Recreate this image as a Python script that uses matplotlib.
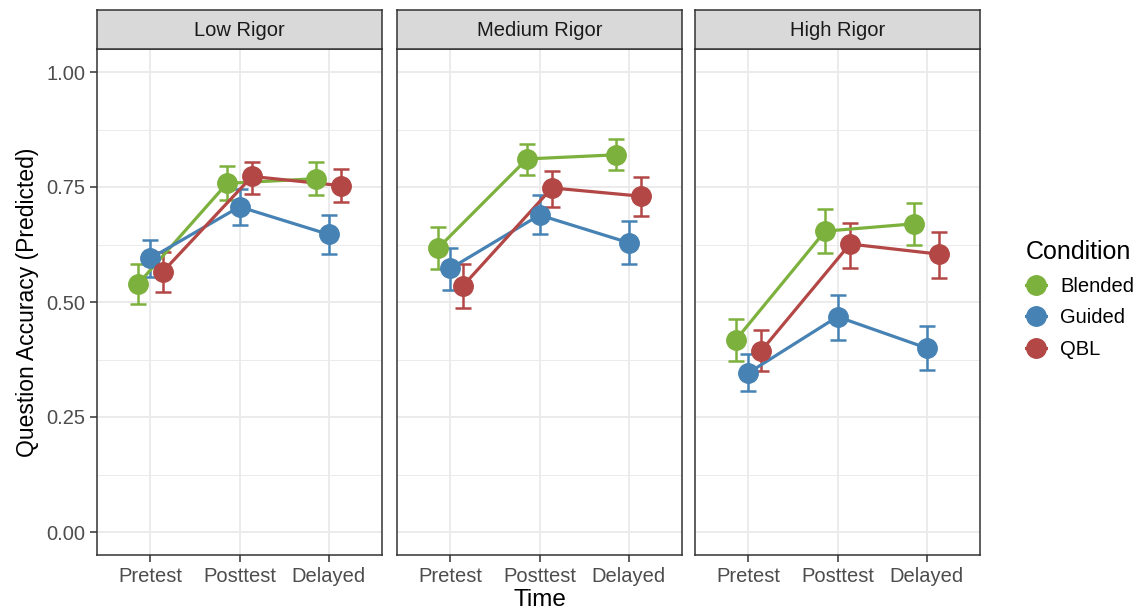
#!/usr/bin/env python3

import numpy as np
import matplotlib.pyplot as plt
from matplotlib.lines import Line2D
from matplotlib.ticker import MultipleLocator

plt.rcParams['font.family'] = ['Liberation Sans', 'DejaVu Sans']

## Data
panels = ['Low Rigor', 'Medium Rigor', 'High Rigor']
times = ['Pretest', 'Posttest', 'Delayed']
conds = ['Blended', 'Guided', 'QBL']

# predicted accuracy, one row per panel, columns = times
blended = [[0.539, 0.758, 0.768], [0.617, 0.811, 0.820], [0.418, 0.654, 0.670]]
guided  = [[0.595, 0.707, 0.647], [0.573, 0.689, 0.629], [0.346, 0.468, 0.400]]
qbl     = [[0.566, 0.773, 0.753], [0.535, 0.748, 0.730], [0.393, 0.626, 0.604]]

# error bar ends (lower, upper)
blended_lo = [[0.496, 0.721, 0.732], [0.571, 0.777, 0.786], [0.372, 0.606, 0.623]]
blended_hi = [[0.582, 0.795, 0.804], [0.662, 0.844, 0.854], [0.463, 0.703, 0.716]]
guided_lo  = [[0.554, 0.667, 0.604], [0.527, 0.647, 0.582], [0.307, 0.418, 0.353]]
guided_hi  = [[0.634, 0.746, 0.690], [0.618, 0.732, 0.676], [0.387, 0.515, 0.447]]
qbl_lo     = [[0.522, 0.734, 0.717], [0.488, 0.706, 0.687], [0.349, 0.575, 0.553]]
qbl_hi     = [[0.608, 0.804, 0.790], [0.582, 0.784, 0.772], [0.439, 0.672, 0.652]]

series = [(blended, blended_lo, blended_hi),
          (guided, guided_lo, guided_hi),
          (qbl, qbl_lo, qbl_hi)]
cols = ['#7DB13D', '#4682B4', '#B24745']
dodge = [-0.14, 0.0, 0.14]

W, H = 1143, 616
fig = plt.figure(figsize=(W/100, H/100), dpi=100)

lefts = [97, 397, 695]
pw = 285
top, bot, strip_top = 49, 555, 10

x = np.arange(1, 4)
axs = []
for p in range(3):
	ax = fig.add_axes([lefts[p]/W, 1-bot/H, pw/W, (bot-top)/H])
	axs.append(ax)
	ax.set_xlim(0.4, 3.6)
	ax.set_ylim(-0.05, 1.05)
	ax.yaxis.set_major_locator(MultipleLocator(0.25))
	ax.yaxis.set_minor_locator(MultipleLocator(0.125))
	ax.set_xticks(x)
	ax.set_xticklabels(times)
	ax.grid(which='major', color='#EBEBEB', linewidth=1.4, zorder=0)
	ax.grid(which='minor', axis='y', color='#EBEBEB', linewidth=0.7, zorder=0)
	ax.set_axisbelow(True)
	ax.tick_params(which='major', length=5, width=1.1, color='#333333',
	               labelsize=14.5, labelcolor='#4D4D4D', pad=3.5)
	ax.tick_params(which='minor', length=0)
	for s in ax.spines.values():
		s.set_color('#333333')
		s.set_linewidth(1.1)

	for k, (val, lo, hi) in enumerate(series):
		xs = x + dodge[k]
		v = np.array(val[p])
		err = [v - np.array(lo[p]), np.array(hi[p]) - v]
		ax.errorbar(xs, v, yerr=err, fmt='none', ecolor=cols[k],
		            elinewidth=1.8, capsize=6, capthick=1.8, zorder=3)
		ax.plot(xs, v, color=cols[k], linewidth=2.3, zorder=4)
		ax.plot(xs, v, 'o', color=cols[k], markersize=14, zorder=5)

	if p > 0:
		ax.tick_params(axis='y', left=False, labelleft=False)

	# facet strip
	sax = fig.add_axes([lefts[p]/W, 1-top/H, pw/W, (top-strip_top)/H])
	sax.set_facecolor('#D9D9D9')
	sax.set_xticks([]); sax.set_yticks([])
	for s in sax.spines.values():
		s.set_color('#333333')
		s.set_linewidth(1.1)
	sax.text(0.5, 0.48, panels[p], ha='center', va='center',
	         fontsize=14.5, color='#1A1A1A', transform=sax.transAxes)

axs[0].set_ylabel('Question Accuracy (Predicted)', fontsize=16.5, labelpad=5)
axs[1].set_xlabel('Time', fontsize=17.5, labelpad=2)

handles = [Line2D([0], [0], color=c, marker='o', markersize=14, linewidth=2.2)
           for c in cols]
leg = fig.legend(handles, conds, title='Condition', loc='upper left',
                 bbox_to_anchor=(1008/W, 1-222/H), frameon=False,
                 fontsize=14.5, title_fontsize=18, handlelength=1.0,
                 labelspacing=0.62, handletextpad=0.7, alignment='left')

fig.savefig('out.png', dpi=100)
print('Created out.png')
